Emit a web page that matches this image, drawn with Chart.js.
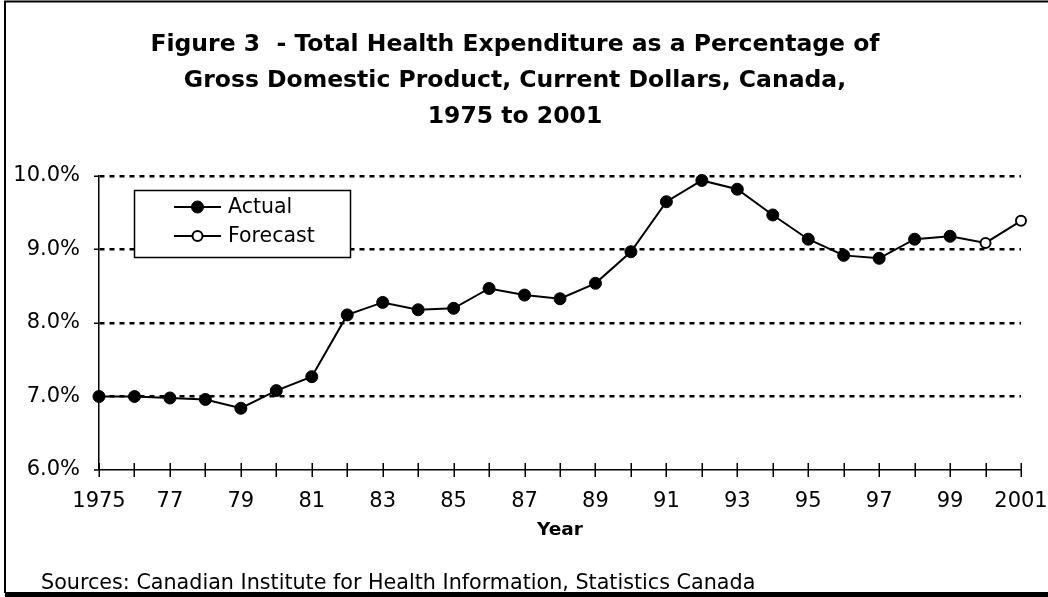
<!DOCTYPE html>
<html>
<head>
<meta charset="utf-8">
<script src="https://cdn.jsdelivr.net/npm/chart.js@4/dist/chart.umd.min.js"></script>
<style>
html, body { margin: 0; padding: 0; background: #ffffff; }
#wrap { width: 1048px; height: 597px; position: relative; }
canvas { display: block; }
</style>
</head>
<body>
<div id="wrap"><canvas id="c" width="1048" height="597"></canvas></div>
<script>
// ---- Data ----
const years = ["1975","1976","1977","1978","1979","1980","1981","1982","1983","1984","1985","1986","1987","1988","1989","1990","1991","1992","1993","1994","1995","1996","1997","1998","1999","2000","2001"];
const xTickLabels = ["1975","","77","","79","","81","","83","","85","","87","","89","","91","","93","","95","","97","","99","","2001"];
const actual = [7.00, 7.00, 6.98, 6.96, 6.84, 7.08, 7.27, 8.11, 8.28, 8.18, 8.20, 8.47, 8.38, 8.33, 8.54, 8.97, 9.65, 9.94, 9.82, 9.47, 9.14, 8.92, 8.88, 9.14, 9.18, null, null];
const forecast = [null, null, null, null, null, null, null, null, null, null, null, null, null, null, null, null, null, null, null, null, null, null, null, null, 9.18, 9.09, 9.39];
const yTickValues = [6, 7, 8, 9, 10];
const yTickLabels = ["6.0%", "7.0%", "8.0%", "9.0%", "10.0%"];
const titleLines = ["Figure 3  - Total Health Expenditure as a Percentage of", "Gross Domestic Product, Current Dollars, Canada,", "1975 to 2001"];
const xAxisTitle = "Year";
const sourceText = "Sources: Canadian Institute for Health Information, Statistics Canada";
const seriesNames = ["Actual", "Forecast"];

const FONT = "'DejaVu Sans', 'Noto Sans', sans-serif";

// ---- Plugins ----
const framePlugin = {
  id: 'frame',
  beforeDraw(chart) {
    const ctx = chart.ctx;
    ctx.save();
    ctx.fillStyle = '#ffffff';
    ctx.fillRect(0, 0, chart.width, chart.height);
    ctx.strokeStyle = '#000000';
    ctx.lineWidth = 2;
    ctx.beginPath();
    ctx.moveTo(4, 1.5); ctx.lineTo(chart.width, 1.5);
    ctx.moveTo(5, 1); ctx.lineTo(5, chart.height - 4);
    ctx.stroke();
    ctx.lineWidth = 5;
    ctx.beginPath();
    ctx.moveTo(5, chart.height - 2.5); ctx.lineTo(chart.width, chart.height - 2.5);
    ctx.stroke();
    ctx.restore();
  }
};

const textPlugin = {
  id: 'texts',
  afterDraw(chart) {
    const ctx = chart.ctx;
    ctx.save();
    ctx.fillStyle = '#000000';
    ctx.textAlign = 'center';
    ctx.textBaseline = 'alphabetic';
    ctx.font = "bold 23.5px " + FONT;
    const baselines = [51, 87, 123];
    titleLines.forEach((t, i) => ctx.fillText(t, 515, baselines[i]));
    ctx.textAlign = 'left';
    ctx.font = "20.7px " + FONT;
    ctx.fillText(sourceText, 41, 589);
    ctx.restore();
  }
};

const xTickMarks = {
  id: 'xTickMarks',
  afterDatasetsDraw(chart) {
    const ctx = chart.ctx;
    const xs = chart.scales.x;
    const y0 = chart.chartArea.bottom;
    ctx.save();
    ctx.strokeStyle = '#000000';
    ctx.lineWidth = 1.5;
    ctx.beginPath();
    for (let i = 0; i < years.length; i++) {
      const x = Math.round(xs.getPixelForValue(i)) + 0.25;
      ctx.moveTo(x, y0 - 7);
      ctx.lineTo(x, y0 + 7);
    }
    ctx.stroke();
    ctx.restore();
  }
};

const legendBox = {
  id: 'legendBox',
  afterDraw(chart) {
    const ctx = chart.ctx;
    const x0 = 134, y0 = 190, w = 216, h = 67;
    ctx.save();
    ctx.fillStyle = '#ffffff';
    ctx.fillRect(x0, y0, w, h);
    ctx.strokeStyle = '#000000';
    ctx.lineWidth = 1.5;
    ctx.strokeRect(x0 + 0.5, y0 + 0.5, w, h);
    const rows = [207, 236];
    chart.data.datasets.forEach((ds, i) => {
      const y = rows[i];
      ctx.strokeStyle = '#000000';
      ctx.lineWidth = 2;
      ctx.beginPath();
      ctx.moveTo(174, y); ctx.lineTo(221, y);
      ctx.stroke();
      ctx.beginPath();
      const r = i === 0 ? 6 : 5;
      ctx.arc(197.5, y, r, 0, Math.PI * 2);
      ctx.fillStyle = i === 0 ? '#000000' : '#ffffff';
      ctx.fill();
      ctx.lineWidth = i === 0 ? 1 : 2;
      ctx.stroke();
      ctx.fillStyle = '#000000';
      ctx.font = "20.5px " + FONT;
      ctx.textAlign = 'left';
      ctx.textBaseline = 'middle';
      ctx.fillText(ds.label, 228, y + 1);
    });
    ctx.restore();
  }
};

// ---- Chart ----
new Chart(document.getElementById('c'), {
  type: 'line',
  data: {
    labels: years,
    datasets: [
      {
        label: seriesNames[0],
        data: actual,
        borderColor: '#000000',
        borderWidth: 2,
        backgroundColor: '#000000',
        pointBackgroundColor: '#000000',
        pointBorderColor: '#000000',
        pointBorderWidth: 1,
        pointRadius: 6,
        tension: 0,
        spanGaps: false,
        clip: false
      },
      {
        label: seriesNames[1],
        data: forecast,
        borderColor: '#000000',
        borderWidth: 2,
        backgroundColor: '#ffffff',
        pointBackgroundColor: '#ffffff',
        pointBorderColor: '#000000',
        pointBorderWidth: 2,
        pointRadius: (c) => (c.dataIndex < 25 ? 0 : 5),
        tension: 0,
        clip: false
      }
    ]
  },
  options: {
    responsive: false,
    animation: false,
    devicePixelRatio: 1,
    layout: { padding: { left: 0, right: 27, top: 176, bottom: 0 } },
    plugins: {
      legend: { display: false },
      title: { display: false },
      tooltip: { enabled: false }
    },
    scales: {
      x: {
        type: 'category',
        offset: false,
        grid: { display: false, drawTicks: false },
        border: { display: true, color: '#000000', width: 1.5 },
        ticks: {
          autoSkip: false,
          maxRotation: 0,
          minRotation: 0,
          padding: 0,
          color: '#000000',
          font: { family: FONT, size: 21, lineHeight: 3.0 },
          callback: (v, i) => xTickLabels[i]
        },
        title: {
          display: true,
          text: xAxisTitle,
          color: '#000000',
          font: { family: FONT, size: 18.5, weight: 'bold' },
          padding: { top: 0, bottom: 56 }
        },
        afterFit: (s) => { s.height = 127; }
      },
      y: {
        min: 6,
        max: 10,
        afterBuildTicks: (s) => { s.ticks = yTickValues.map(v => ({ value: v })); },
        grid: {
          color: '#000000',
          lineWidth: (c) => (c.tick && c.tick.value === 6 ? 0 : 2.5),
          drawTicks: true,
          tickLength: 5,
          tickColor: '#000000',
          tickWidth: 1.5
        },
        border: { display: true, color: '#000000', width: 1.5, dash: [5, 5] },
        ticks: {
          padding: 14,
          color: '#000000',
          font: { family: FONT, size: 21 },
          callback: (v) => yTickLabels[yTickValues.indexOf(v)]
        },
        afterFit: (s) => { s.width = 99; }
      }
    }
  },
  plugins: [framePlugin, xTickMarks, legendBox, textPlugin]
});
</script>
</body>
</html>
